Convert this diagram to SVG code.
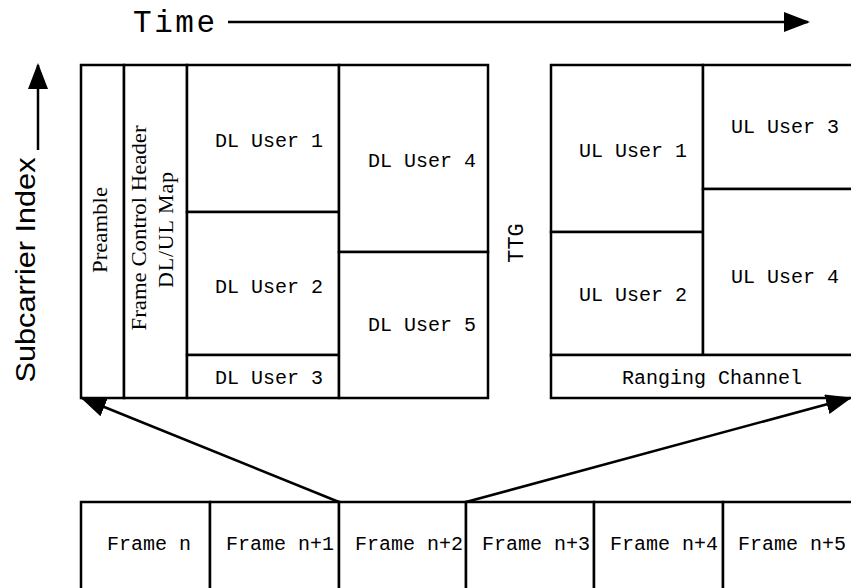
<svg xmlns="http://www.w3.org/2000/svg" width="851" height="588" viewBox="0 0 851 588">
<style>
.c{fill:#fff;stroke:#000;stroke-width:2.5}
.m{font-family:"Liberation Mono",monospace;font-size:20px;fill:#000}
.s{font-family:"Liberation Serif",serif;font-size:22px;fill:#000}
.a{stroke:#000;stroke-width:2.5;fill:none}
</style>
<defs>
<marker id="ah" viewBox="0 0 26 20" refX="24" refY="10" markerWidth="26" markerHeight="20" markerUnits="userSpaceOnUse" orient="auto">
<path d="M0,0 L26,10 L0,20 z" fill="#000"/>
</marker>
</defs>
<rect width="851" height="588" fill="#fff"/>
<g id="time-axis">
<text class="m" x="133" y="32" style="font-size:31px" textLength="82" lengthAdjust="spacing">Time</text>
</g>
<g id="subcarrier-axis">
<text x="0" y="0" transform="translate(35,270) rotate(-90)" text-anchor="middle" style="font-family:'Liberation Sans',sans-serif;font-size:28px" textLength="225" lengthAdjust="spacingAndGlyphs">Subcarrier Index</text>
</g>
<g id="preamble">
<rect class="c" x="81" y="65" width="43" height="333"/>
<text class="s" transform="translate(107,230) rotate(-90)" text-anchor="middle" textLength="86" lengthAdjust="spacingAndGlyphs">Preamble</text>
</g>
<g id="fch">
<rect class="c" x="124" y="65" width="63" height="333"/>
<text class="s" transform="translate(146,228) rotate(-90)" text-anchor="middle" textLength="205" lengthAdjust="spacingAndGlyphs">Frame Control Header</text>
<text class="s" transform="translate(173,230) rotate(-90)" text-anchor="middle" textLength="116" lengthAdjust="spacing">DL/UL Map</text>
</g>
<g id="dl-user-1">
<rect class="c" x="187" y="65" width="152" height="147"/>
<text class="m" x="215" y="147">DL User 1</text>
</g>
<g id="dl-user-2">
<rect class="c" x="187" y="212" width="152" height="143"/>
<text class="m" x="215" y="293">DL User 2</text>
</g>
<g id="dl-user-3">
<rect class="c" x="187" y="355" width="152" height="43"/>
<text class="m" x="215" y="384">DL User 3</text>
</g>
<g id="dl-user-4">
<rect class="c" x="339" y="65" width="149" height="187"/>
<text class="m" x="368" y="167">DL User 4</text>
</g>
<g id="dl-user-5">
<rect class="c" x="339" y="252" width="149" height="146"/>
<text class="m" x="368" y="331">DL User 5</text>
</g>
<g id="ttg">
<text class="m" style="font-size:22px" transform="translate(523,243) rotate(-90)" text-anchor="middle">TTG</text>
</g>
<g id="ul-user-1">
<rect class="c" x="551" y="65" width="152" height="167"/>
<text class="m" x="579" y="157">UL User 1</text>
</g>
<g id="ul-user-2">
<rect class="c" x="551" y="232" width="152" height="123"/>
<text class="m" x="579" y="301">UL User 2</text>
</g>
<g id="ul-user-3">
<rect class="c" x="703" y="65" width="160" height="124"/>
<text class="m" x="731" y="133">UL User 3</text>
</g>
<g id="ul-user-4">
<rect class="c" x="703" y="189" width="160" height="166"/>
<text class="m" x="731" y="283">UL User 4</text>
</g>
<g id="ranging-channel">
<rect class="c" x="551" y="355" width="312" height="43"/>
<text class="m" x="622" y="384">Ranging Channel</text>
</g>
<g id="frame-n">
<rect class="c" x="81" y="502" width="129" height="100"/>
<text class="m" x="107" y="550">Frame n</text>
</g>
<g id="frame-n1">
<rect class="c" x="210" y="502" width="129" height="100"/>
<text class="m" x="226" y="550">Frame n+1</text>
</g>
<g id="frame-n2">
<rect class="c" x="339" y="502" width="127" height="100"/>
<text class="m" x="355" y="550">Frame n+2</text>
</g>
<g id="frame-n3">
<rect class="c" x="466" y="502" width="128" height="100"/>
<text class="m" x="482" y="550">Frame n+3</text>
</g>
<g id="frame-n4">
<rect class="c" x="594" y="502" width="129" height="100"/>
<text class="m" x="610" y="550">Frame n+4</text>
</g>
<g id="frame-n5">
<rect class="c" x="723" y="502" width="140" height="100"/>
<text class="m" x="738" y="550">Frame n+5</text>
</g>
<g id="connectors">
<line class="a" x1="228" y1="22" x2="808" y2="22" marker-end="url(#ah)"/>
<line class="a" x1="38" y1="150" x2="38" y2="65" marker-end="url(#ah)"/>
<line class="a" x1="339" y1="502" x2="82" y2="398" marker-end="url(#ah)"/>
<line class="a" x1="466" y1="502" x2="850" y2="398" marker-end="url(#ah)"/>
</g>
</svg>
